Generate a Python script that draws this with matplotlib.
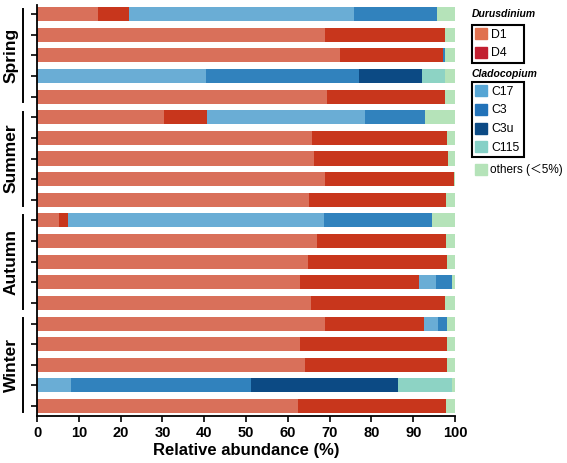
import matplotlib
matplotlib.use("Agg")
import matplotlib.pyplot as plt
import matplotlib.transforms as mtransforms
from matplotlib.patches import Patch
import numpy as np

plt.rcParams['font.family'] = ['Liberation Sans', 'Noto Sans CJK SC', 'DejaVu Sans']

seasons = ["Spring", "Summer", "Autumn", "Winter"]
per_season = 5

D1 = [14.6, 68.8, 72.6, 0, 69.3, 30.3, 65.8, 66.3, 68.9, 65.1,
      5.3, 67.1, 64.9, 62.9, 65.5, 68.8, 62.9, 64.0, 0, 62.4]
D4 = [7.4, 28.9, 24.6, 0, 28.4, 10.3, 32.3, 32.0, 30.9, 32.8,
      2.0, 30.8, 33.3, 28.6, 32.2, 23.8, 35.2, 34.1, 0, 35.5]
C17 = [53.8, 0, 0, 40.4, 0, 37.9, 0, 0, 0, 0,
       61.4, 0, 0, 3.9, 0, 3.4, 0, 0, 8.1, 0]
C3 = [19.8, 0, 0.3, 36.7, 0, 14.4, 0, 0, 0, 0,
      25.8, 0, 0, 4.0, 0, 2.2, 0, 0, 43.0, 0]
C3u = [0, 0, 0, 14.9, 0, 0, 0, 0, 0, 0,
       0, 0, 0, 0, 0, 0, 0, 0, 35.3, 0]
C115 = [0, 0, 0, 5.6, 0, 0, 0, 0, 0, 0,
        0, 0, 0, 0, 0, 0, 0, 0, 13.0, 0]
others = [4.4, 2.3, 2.5, 2.4, 2.3, 7.1, 1.9, 1.7, 0.2, 2.1,
          5.5, 2.1, 1.8, 0.6, 2.3, 1.8, 1.9, 1.9, 0.6, 2.1]

series = [("D1", D1, "#d9705a"), ("D4", D4, "#c8361c"),
          ("C17", C17, "#6aadd5"), ("C3", C3, "#3182bd"),
          ("C3u", C3u, "#0c4a84"), ("C115", C115, "#8dd3c4"),
          ("others", others, "#b5e3b9")]
legend_colors = {"D1": "#e0714f", "D4": "#c21f30", "C17": "#56a5d4",
                 "C3": "#2272b8", "C3u": "#0c4a84", "C115": "#86d0c6",
                 "others": "#b5e3b9"}

W, H = 567, 463
fig = plt.figure(figsize=(W / 100, H / 100), dpi=100)
ax = fig.add_axes([37 / W, 1 - 416 / H, 418 / W, 411 / H])

y = np.arange(len(D1))
left = np.zeros(len(D1))
for name, vals, col in series:
    v = np.array(vals)
    ax.barh(y, v, left=left, height=0.68, color=col, edgecolor='none')
    left += v

ax.set_xlim(0, 100)
ax.set_ylim(19.48, -0.44)
ax.set_xticks(np.arange(0, 101, 10))
ax.set_yticks(y)
ax.set_yticklabels([])
for s in ['top', 'right']:
    ax.spines[s].set_visible(False)
for s in ['left', 'bottom']:
    ax.spines[s].set_linewidth(1.3)
ax.tick_params(axis='both', direction='out', length=4, width=1.2)
for lab in ax.get_xticklabels():
    lab.set_fontsize(10.5)
    lab.set_fontweight('bold')
ax.set_xlabel("Relative abundance (%)", fontsize=12, fontweight='bold', labelpad=2)

trans = mtransforms.blended_transform_factory(ax.transAxes, ax.transData)
for i, s in enumerate(seasons):
    y0 = i * per_season - 0.27
    y1 = (i + 1) * per_season - 1 + 0.28
    ax.plot([-0.033, -0.033], [y0, y1], color='black', lw=1.4,
            transform=trans, clip_on=False)
    ax.text(-0.062, (y0 + y1) / 2, s, rotation=90, ha='center', va='center',
            fontsize=12.5, fontweight='bold', transform=trans)

# legends
fig.text(472 / W, 1 - 14 / H, "Durusdinium", fontsize=7.5, fontweight='bold',
         fontstyle='italic', ha='left', va='center')
fig.text(472 / W, 1 - 74 / H, "Cladocopium", fontsize=7.5, fontweight='bold',
         fontstyle='italic', ha='left', va='center')

kw = dict(fontsize=8.8, handlelength=1.0, handleheight=1.0, handletextpad=0.3,
          labelspacing=0.5, borderpad=0.25, borderaxespad=0, fancybox=False,
          edgecolor='black', framealpha=1, mode='expand')
leg1 = fig.legend([Patch(color=legend_colors[n]) for n in ["D1", "D4"]], ["D1", "D4"],
                  loc='upper left',
                  bbox_to_anchor=(472 / W, 1 - 61 / H, 52 / W, 36 / H), **kw)
leg1.get_frame().set_linewidth(1.5)
leg2 = fig.legend([Patch(color=legend_colors[n]) for n in ["C17", "C3", "C3u", "C115"]],
                  ["C17", "C3", "C3u", "C115"],
                  loc='upper left',
                  bbox_to_anchor=(472 / W, 1 - 158 / H, 52 / W, 76 / H), **kw)
leg2.get_frame().set_linewidth(1.5)
leg3 = fig.legend([Patch(color=legend_colors["others"])], ["others (＜5%)"],
                  loc='upper left', bbox_to_anchor=(472 / W, 1 - 161 / H),
                  frameon=False, fontsize=8.5, handlelength=1.0, handleheight=1.0,
                  handletextpad=0.3, borderpad=0.25, borderaxespad=0)

fig.savefig("out.png", dpi=100)
